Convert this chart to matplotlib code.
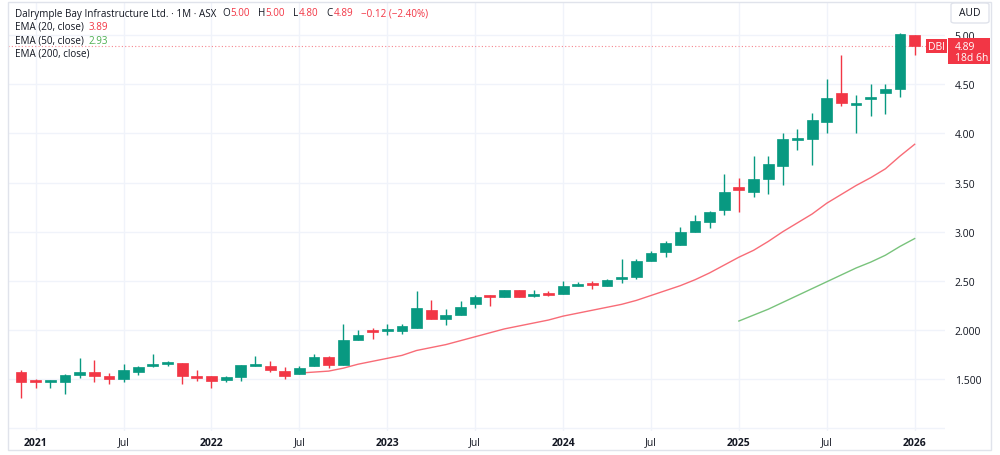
import matplotlib
matplotlib.use("Agg")
import matplotlib.pyplot as plt
from matplotlib.patches import Rectangle, FancyBboxPatch

# monthly candles, Dec 2020 .. Jan 2026
opens = [1.57, 1.475, 1.465, 1.47, 1.54, 1.57, 1.53, 1.50, 1.57, 1.635, 1.655, 1.66,
         1.535, 1.53, 1.485, 1.515, 1.63, 1.63, 1.58, 1.55, 1.63, 1.725, 1.64, 1.90,
         1.985, 1.985, 1.99, 2.02, 2.20, 2.115, 2.155, 2.26, 2.35, 2.33, 2.41, 2.345,
         2.37, 2.37, 2.445, 2.465, 2.445, 2.515, 2.535, 2.70, 2.79, 2.86, 3.00, 3.10,
         3.22, 3.46, 3.40, 3.54, 3.67, 3.935, 3.94, 4.12, 4.41, 4.295, 4.35, 4.41,
         4.45, 5.00]
highs = [1.59, 1.50, 1.49, 1.55, 1.71, 1.69, 1.56, 1.65, 1.63, 1.75, 1.68, 1.66,
         1.595, 1.53, 1.53, 1.645, 1.73, 1.68, 1.62, 1.63, 1.75, 1.73, 2.06, 2.00,
         2.02, 2.06, 2.06, 2.40, 2.30, 2.21, 2.29, 2.36, 2.36, 2.41, 2.41, 2.41,
         2.395, 2.495, 2.49, 2.50, 2.515, 2.72, 2.725, 2.80, 2.91, 3.05, 3.17, 3.21,
         3.59, 3.55, 3.77, 3.77, 4.00, 4.05, 4.21, 4.555, 4.80, 4.39, 4.50, 4.50,
         5.02, 5.00]
lows = [1.31, 1.41, 1.41, 1.35, 1.51, 1.47, 1.45, 1.465, 1.54, 1.62, 1.63, 1.45,
        1.48, 1.41, 1.47, 1.48, 1.63, 1.57, 1.50, 1.55, 1.63, 1.615, 1.64, 1.90,
        1.91, 1.95, 1.955, 2.02, 2.115, 2.05, 2.155, 2.22, 2.24, 2.33, 2.33, 2.33,
        2.34, 2.37, 2.445, 2.42, 2.445, 2.475, 2.52, 2.70, 2.74, 2.86, 2.995, 3.04,
        3.17, 3.20, 3.35, 3.38, 3.48, 3.83, 3.68, 4.00, 4.28, 4.00, 4.18, 4.20,
        4.37, 4.80]
closes = [1.47, 1.465, 1.475, 1.54, 1.57, 1.53, 1.50, 1.59, 1.62, 1.645, 1.665, 1.53,
          1.51, 1.48, 1.515, 1.64, 1.64, 1.59, 1.535, 1.61, 1.72, 1.64, 1.90, 1.95,
          1.975, 2.01, 2.04, 2.22, 2.115, 2.155, 2.23, 2.33, 2.33, 2.41, 2.33, 2.37,
          2.36, 2.45, 2.47, 2.455, 2.505, 2.53, 2.70, 2.78, 2.88, 3.00, 3.11, 3.20,
          3.40, 3.42, 3.54, 3.69, 3.94, 3.945, 4.14, 4.36, 4.31, 4.31, 4.37, 4.45,
          5.01, 4.89]

# EMA 20 from Jul 2022, EMA 50 from Jan 2025
ema20_start = 19
ema20 = [1.56, 1.57, 1.58, 1.61, 1.65, 1.68, 1.71, 1.74, 1.79, 1.82, 1.85, 1.89,
         1.93, 1.97, 2.01, 2.04, 2.07, 2.10, 2.14, 2.17, 2.20, 2.23, 2.26, 2.30,
         2.35, 2.40, 2.45, 2.51, 2.58, 2.66, 2.74, 2.81, 2.90, 3.00, 3.09, 3.18,
         3.29, 3.38, 3.47, 3.55, 3.64, 3.77, 3.89]
ema50_start = 49
ema50 = [2.09, 2.15, 2.21, 2.28, 2.35, 2.42, 2.49, 2.56, 2.63, 2.69, 2.76, 2.85, 2.93]

xtick_pos = [1, 7, 13, 19, 25, 31, 37, 43, 49, 55, 61]
xtick_labels = ["2021", "Jul", "2022", "Jul", "2023", "Jul", "2024", "Jul", "2025", "Jul", "2026"]
ytick_pos = [1.0, 1.5, 2.0, 2.5, 3.0, 3.5, 4.0, 4.5, 5.0]
ytick_labels = ["", "1.500", "2.000", "2.50", "3.00", "3.50", "4.00", "4.50", "5.00"]

UP = "#089981"
DOWN = "#F23645"
EMA50_COL = "#4caf50"
TXT = "#131722"
GRID = "#f0f3fa"
W, H = 1000, 456

plt.rcParams["font.family"] = ["Open Sans", "DejaVu Sans"]

fig = plt.figure(figsize=(10, 4.56), dpi=100)
fig.patch.set_facecolor("white")


def fx(x):
    return x / W


def fy(y):
    return 1 - y / H


ax = fig.add_axes([fx(8), fy(432), fx(937), 429 / H])
ax.set_xlim(-0.89, 63.07)
ax.set_ylim(0.97, 5.339)
for s in ax.spines.values():
    s.set_visible(False)

ax.set_yticks(ytick_pos)
ax.set_yticklabels(ytick_labels)
ax.yaxis.tick_right()
ax.set_xticks(xtick_pos)
ax.set_xticklabels(xtick_labels)
for lbl in ax.get_xticklabels():
    if lbl.get_text() != "Jul":
        lbl.set_fontweight("bold")
ax.tick_params(axis="y", length=0, pad=7, labelsize=7.5, labelcolor=TXT)
ax.tick_params(axis="x", length=0, pad=4, labelsize=7.5, labelcolor=TXT)
ax.grid(True, color=GRID, lw=1)
ax.set_axisbelow(True)

# candles
for i in range(len(opens)):
    o, h, l, c = opens[i], highs[i], lows[i], closes[i]
    col = UP if c >= o else DOWN
    ax.vlines(i, l, h, color=col, lw=1, zorder=2)
    bottom = min(o, c)
    height = max(abs(c - o), 0.02)
    ax.bar(i, height, bottom=bottom, width=0.74, color=col, edgecolor=col, lw=0.5, zorder=3)

ax.plot(range(ema20_start, ema20_start + len(ema20)), ema20, color="#f7525f", lw=1, alpha=0.85, zorder=2)
ax.plot(range(ema50_start, ema50_start + len(ema50)), ema50, color=EMA50_COL, lw=1, alpha=0.75, zorder=2)

# last price dotted line
ax.axhline(closes[-1], color=DOWN, lw=0.8, ls=(0, (1, 2)), alpha=0.6, zorder=1)

# outer frame
fig.patches.append(Rectangle((fx(8), fy(451)), fx(983), 448 / H, transform=fig.transFigure,
                             fill=False, ec="#e0e3eb", lw=1))

renderer = fig.canvas.get_renderer()


def ftext(x, y, s, **kw):
    kw.setdefault("fontsize", 7.5)
    kw.setdefault("color", TXT)
    t = fig.text(fx(x), fy(y), s, va="center", ha=kw.pop("ha", "left"), **kw)
    return t.get_window_extent(renderer).x1


def flow(x, y, pieces, size=7.1):
    # place text pieces one after another on a line
    for s, col, gap in pieces:
        x = ftext(x, y, s, color=col, fontsize=size) + gap


# header
flow(15, 14, [("Dalrymple Bay Infrastructure Ltd. \u00b7 1M \u00b7 ASX", TXT, 6),
              ("O", TXT, 0.5), ("5.00", DOWN, 8),
              ("H", TXT, 0.5), ("5.00", DOWN, 8),
              ("L", TXT, 0.5), ("4.80", DOWN, 8),
              ("C", TXT, 0.5), ("4.89", DOWN, 8),
              ("\u22120.12 (\u22122.40%)", DOWN, 0)])
flow(15, 27, [("EMA (20, close)", TXT, 5), ("3.89", DOWN, 0)])
flow(15, 41, [("EMA (50, close)", TXT, 5), ("2.93", EMA50_COL, 0)])
ftext(15, 54, "EMA (200, close)", fontsize=7.1)

# right side labels
fig.patches.append(FancyBboxPatch((fx(951), fy(24)), fx(38), 20 / H, transform=fig.transFigure,
                                  boxstyle="round,pad=0,rounding_size=0.004", fc="white", ec="#e0e3eb", lw=1))
ftext(970, 14, "AUD", ha="center")
fig.patches.append(Rectangle((fx(926), fy(54)), fx(21), 14 / H, transform=fig.transFigure,
                             fc=DOWN, ec="none"))
ftext(936.5, 47, "DBI", ha="center", color="white")
fig.patches.append(Rectangle((fx(948), fy(65)), fx(42), 26 / H, transform=fig.transFigure,
                             fc=DOWN, ec="none"))
ftext(955, 47, "4.89", color="white")
ftext(955, 58.5, "18d 6h", color="white")

fig.savefig("out.png", dpi=100)
